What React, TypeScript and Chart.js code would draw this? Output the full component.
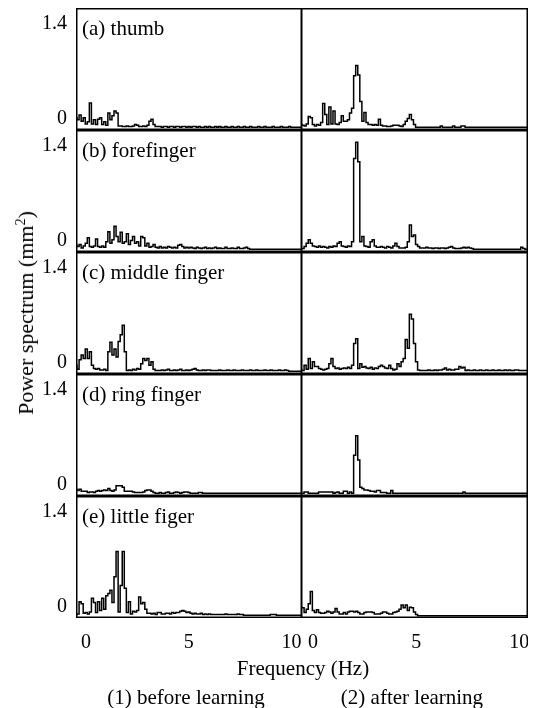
import React, { useEffect, useRef } from "react";
import { Chart, registerables } from "chart.js";

Chart.register(...registerables);

// Frequency grid (Hz)
const FREQ = [
  0, 0.1, 0.2, 0.3, 0.4, 0.5, 0.6, 0.7, 0.8, 0.9,
  1, 1.1, 1.2, 1.3, 1.4, 1.5, 1.6, 1.7, 1.8, 1.9,
  2, 2.1, 2.2, 2.3, 2.4, 2.5, 2.6, 2.7, 2.8, 2.9,
  3, 3.1, 3.2, 3.3, 3.4, 3.5, 3.6, 3.7, 3.8, 3.9,
  4, 4.1, 4.2, 4.3, 4.4, 4.5, 4.6, 4.7, 4.8, 4.9,
  5, 5.1, 5.2, 5.3, 5.4, 5.5, 5.6, 5.7, 5.8, 5.9,
  6, 6.1, 6.2, 6.3, 6.4, 6.5, 6.6, 6.7, 6.8, 6.9,
  7, 7.1, 7.2, 7.3, 7.4, 7.5, 7.6, 7.7, 7.8, 7.9,
  8, 8.1, 8.2, 8.3, 8.4, 8.5, 8.6, 8.7, 8.8, 8.9,
  9, 9.1, 9.2, 9.3, 9.4, 9.5, 9.6, 9.7, 9.8, 9.9,
  10, 10.1, 10.2, 10.3, 10.4, 10.5, 10.6, 10.7, 10.8, 10.9, 11,
];

// (1) before learning
const THUMB_BEFORE = [
  0.15, 0.12, 0.19, 0.10, 0.15, 0.06, 0.09, 0.37, 0.06, 0.12,
  0.05, 0.13, 0.15, 0.05, 0.09, 0.04, 0.22, 0.12, 0.18, 0.25,
  0.22, 0.03, 0.03, 0.02, 0.02, 0.03, 0.02, 0.02, 0.03, 0.05,
  0.04, 0.02, 0.02, 0.03, 0.02, 0.04, 0.10, 0.13, 0.05, 0.02,
  0.02, 0.02, 0.01, 0.02, 0.02, 0.01, 0.02, 0.02, 0.01, 0.02,
  0.02, 0.01, 0.02, 0.02, 0.01, 0.02, 0.01, 0.02, 0.02, 0.01,
  0.02, 0.01, 0.01, 0.02, 0.01, 0.02, 0.01, 0.01, 0.02, 0.01,
  0.02, 0.01, 0.01, 0.02, 0.01, 0.01, 0.02, 0.01, 0.01, 0.02,
  0.01, 0.01, 0.02, 0.01, 0.01, 0.02, 0.01, 0.01, 0.01, 0.02,
  0.01, 0.01, 0.02, 0.01, 0.01, 0.01, 0.02, 0.01, 0.01, 0.01,
  0.02, 0.01, 0.01, 0.01, 0.02, 0.01, 0.01, 0.01, 0.01, 0.01, 0.01,
];
const FORE_BEFORE = [
  0.07, 0.05, 0.08, 0.03, 0.06, 0.10, 0.18, 0.05, 0.04, 0.06,
  0.16, 0.05, 0.04, 0.06, 0.04, 0.12, 0.27, 0.10, 0.15, 0.35,
  0.20, 0.12, 0.26, 0.10, 0.12, 0.24, 0.08, 0.14, 0.20, 0.10,
  0.12, 0.06, 0.20, 0.18, 0.06, 0.10, 0.04, 0.05, 0.08, 0.04,
  0.03, 0.05, 0.03, 0.04, 0.03, 0.05, 0.04, 0.03, 0.04, 0.03,
  0.07, 0.08, 0.05, 0.03, 0.04, 0.03, 0.04, 0.03, 0.02, 0.04,
  0.03, 0.02, 0.03, 0.04, 0.02, 0.03, 0.02, 0.03, 0.04, 0.02,
  0.03, 0.02, 0.02, 0.04, 0.02, 0.02, 0.03, 0.02, 0.02, 0.04,
  0.02, 0.02, 0.03, 0.04, 0.02, 0.01, 0.01, 0.01, 0.01, 0.01,
  0.01, 0.01, 0.01, 0.01, 0.01, 0.01, 0.01, 0.01, 0.01, 0.01,
  0.01, 0.01, 0.01, 0.01, 0.01, 0.01, 0.01, 0.01, 0.01, 0.01, 0.01,
];
const MIDDLE_BEFORE = [
  0.10, 0.04, 0.18, 0.25, 0.20, 0.34, 0.20, 0.30, 0.10, 0.05,
  0.04, 0.05, 0.03, 0.03, 0.04, 0.02, 0.30, 0.44, 0.25, 0.34,
  0.22, 0.45, 0.55, 0.69, 0.30, 0.02, 0.03, 0.02, 0.04, 0.03,
  0.05, 0.04, 0.12, 0.20, 0.17, 0.20, 0.10, 0.15, 0.04, 0.02,
  0.02, 0.02, 0.03, 0.02, 0.03, 0.04, 0.02, 0.02, 0.03, 0.02,
  0.03, 0.04, 0.02, 0.02, 0.03, 0.02, 0.03, 0.04, 0.05, 0.03,
  0.02, 0.02, 0.03, 0.02, 0.03, 0.03, 0.02, 0.02, 0.02, 0.02,
  0.03, 0.02, 0.02, 0.02, 0.03, 0.02, 0.02, 0.03, 0.02, 0.02,
  0.02, 0.03, 0.02, 0.02, 0.02, 0.03, 0.02, 0.02, 0.03, 0.02,
  0.02, 0.02, 0.03, 0.02, 0.02, 0.03, 0.02, 0.02, 0.02, 0.03,
  0.02, 0.02, 0.03, 0.02, 0.01, 0.01, 0.01, 0.01, 0.01, 0.01, 0.01,
];
const RING_BEFORE = [
  0.07, 0.05, 0.07, 0.04, 0.04, 0.04, 0.02, 0.03, 0.03, 0.02,
  0.04, 0.05, 0.04, 0.05, 0.06, 0.05, 0.08, 0.05, 0.04, 0.06,
  0.12, 0.12, 0.12, 0.10, 0.04, 0.04, 0.04, 0.04, 0.03, 0.02,
  0.02, 0.02, 0.02, 0.03, 0.05, 0.06, 0.06, 0.04, 0.02, 0.01,
  0.01, 0.02, 0.01, 0.01, 0.02, 0.03, 0.01, 0.01, 0.02, 0.03,
  0.02, 0.01, 0.02, 0.03, 0.03, 0.02, 0.01, 0.01, 0.01, 0.01,
  0.02, 0.02, 0.01, 0.01, 0.01, 0.01, 0.01, 0.01, 0.01, 0.01,
  0.01, 0.01, 0.01, 0.01, 0.01, 0.01, 0.01, 0.01, 0.01, 0.01,
  0.01, 0.01, 0.01, 0.01, 0.01, 0.01, 0.01, 0.01, 0.01, 0.01,
  0.01, 0.01, 0.01, 0.01, 0.01, 0.01, 0.01, 0.01, 0.01, 0.01,
  0.01, 0.01, 0.01, 0.01, 0.01, 0.01, 0.01, 0.01, 0.01, 0.01, 0.01,
];
const LITTLE_BEFORE = [
  0.02, 0.03, 0.21, 0.18, 0.04, 0.05, 0.03, 0.06, 0.26, 0.20,
  0.05, 0.21, 0.08, 0.26, 0.10, 0.30, 0.33, 0.38, 0.20, 0.58,
  0.95, 0.06, 0.45, 0.95, 0.41, 0.05, 0.21, 0.03, 0.07, 0.06,
  0.08, 0.28, 0.18, 0.20, 0.10, 0.04, 0.04, 0.03, 0.04, 0.02,
  0.05, 0.05, 0.03, 0.03, 0.04, 0.04, 0.03, 0.05, 0.04, 0.05,
  0.05, 0.07, 0.08, 0.07, 0.05, 0.06, 0.04, 0.03, 0.04, 0.03,
  0.03, 0.04, 0.02, 0.03, 0.02, 0.03, 0.02, 0.02, 0.02, 0.02,
  0.02, 0.02, 0.02, 0.03, 0.02, 0.02, 0.02, 0.02, 0.02, 0.03,
  0.02, 0.02, 0.01, 0.01, 0.01, 0.01, 0.01, 0.01, 0.01, 0.01,
  0.01, 0.01, 0.01, 0.01, 0.01, 0.02, 0.02, 0.02, 0.01, 0.01,
  0.01, 0.01, 0.01, 0.01, 0.01, 0.01, 0.01, 0.01, 0.01, 0.01, 0.01,
];

// (2) after learning
const THUMB_AFTER = [
  0.05, 0.04, 0.03, 0.06, 0.17, 0.15, 0.05, 0.03, 0.05, 0.04,
  0.08, 0.36, 0.20, 0.05, 0.31, 0.06, 0.25, 0.06, 0.05, 0.08,
  0.18, 0.10, 0.10, 0.12, 0.22, 0.29, 0.77, 0.92, 0.78, 0.39,
  0.10, 0.23, 0.08, 0.05, 0.05, 0.04, 0.05, 0.04, 0.13, 0.04,
  0.03, 0.03, 0.02, 0.02, 0.03, 0.04, 0.04, 0.04, 0.03, 0.02,
  0.05, 0.10, 0.14, 0.20, 0.12, 0.05, 0.01, 0.01, 0.01, 0.01,
  0.01, 0.01, 0.01, 0.01, 0.01, 0.01, 0.01, 0.01, 0.03, 0.01,
  0.01, 0.01, 0.01, 0.01, 0.03, 0.01, 0.01, 0.01, 0.03, 0.03,
  0.01, 0.01, 0.01, 0.01, 0.01, 0.01, 0.01, 0.01, 0.01, 0.01,
  0.01, 0.01, 0.01, 0.01, 0.01, 0.01, 0.01, 0.01, 0.01, 0.01,
  0.01, 0.01, 0.01, 0.01, 0.01, 0.01, 0.01, 0.01, 0.01, 0.01, 0.01,
];
const FORE_AFTER = [
  0.02, 0.02, 0.05, 0.10, 0.15, 0.10, 0.06, 0.05, 0.04, 0.06,
  0.04, 0.05, 0.04, 0.03, 0.05, 0.04, 0.06, 0.05, 0.10, 0.12,
  0.06, 0.05, 0.04, 0.06, 0.05, 0.12, 1.35, 1.59, 1.30, 0.12,
  0.20, 0.06, 0.05, 0.04, 0.12, 0.15, 0.06, 0.04, 0.04, 0.05,
  0.04, 0.03, 0.05, 0.04, 0.03, 0.06, 0.10, 0.05, 0.03, 0.03,
  0.03, 0.04, 0.12, 0.37, 0.20, 0.22, 0.08, 0.05, 0.03, 0.03,
  0.03, 0.04, 0.03, 0.03, 0.02, 0.03, 0.03, 0.02, 0.03, 0.03,
  0.02, 0.03, 0.04, 0.05, 0.03, 0.02, 0.02, 0.02, 0.03, 0.04,
  0.03, 0.04, 0.03, 0.02, 0.01, 0.01, 0.01, 0.01, 0.01, 0.01,
  0.01, 0.01, 0.01, 0.01, 0.01, 0.01, 0.01, 0.01, 0.01, 0.01,
  0.01, 0.01, 0.01, 0.01, 0.01, 0.01, 0.01, 0.04, 0.02, 0.01, 0.01,
];
const MIDDLE_AFTER = [
  0.03, 0.02, 0.10, 0.04, 0.20, 0.05, 0.15, 0.08, 0.08, 0.05,
  0.04, 0.03, 0.04, 0.05, 0.12, 0.20, 0.08, 0.05, 0.06, 0.04,
  0.05, 0.06, 0.05, 0.07, 0.05, 0.10, 0.42, 0.49, 0.05, 0.12,
  0.07, 0.08, 0.06, 0.05, 0.07, 0.04, 0.06, 0.05, 0.08, 0.10,
  0.08, 0.06, 0.05, 0.10, 0.05, 0.03, 0.04, 0.12, 0.08, 0.15,
  0.20, 0.48, 0.35, 0.85, 0.78, 0.42, 0.15, 0.03, 0.02, 0.02,
  0.02, 0.02, 0.03, 0.02, 0.02, 0.03, 0.02, 0.03, 0.03, 0.04,
  0.06, 0.03, 0.04, 0.03, 0.03, 0.04, 0.04, 0.08, 0.06, 0.07,
  0.02, 0.03, 0.02, 0.02, 0.03, 0.02, 0.02, 0.03, 0.02, 0.02,
  0.03, 0.02, 0.02, 0.03, 0.02, 0.02, 0.03, 0.02, 0.02, 0.03,
  0.02, 0.03, 0.02, 0.02, 0.03, 0.03, 0.02, 0.02, 0.02, 0.02, 0.02,
];
const RING_AFTER = [
  0.01, 0.01, 0.03, 0.03, 0.01, 0.01, 0.01, 0.01, 0.01, 0.03,
  0.03, 0.03, 0.03, 0.03, 0.03, 0.03, 0.01, 0.02, 0.03, 0.01,
  0.01, 0.04, 0.04, 0.01, 0.03, 0.01, 0.57, 0.86, 0.50, 0.10,
  0.08, 0.06, 0.06, 0.05, 0.04, 0.04, 0.03, 0.05, 0.05, 0.02,
  0.02, 0.02, 0.01, 0.01, 0.05, 0.01, 0.01, 0.01, 0.01, 0.01,
  0.01, 0.01, 0.01, 0.01, 0.01, 0.01, 0.01, 0.01, 0.01, 0.01,
  0.01, 0.01, 0.01, 0.01, 0.01, 0.01, 0.01, 0.01, 0.01, 0.01,
  0.01, 0.01, 0.01, 0.01, 0.01, 0.01, 0.01, 0.01, 0.01, 0.03,
  0.01, 0.01, 0.01, 0.01, 0.01, 0.01, 0.01, 0.01, 0.01, 0.01,
  0.01, 0.01, 0.01, 0.01, 0.01, 0.01, 0.01, 0.01, 0.01, 0.01,
  0.01, 0.01, 0.01, 0.01, 0.01, 0.01, 0.01, 0.01, 0.01, 0.01, 0.01,
];
const LITTLE_AFTER = [
  0.13, 0.12, 0.05, 0.10, 0.18, 0.36, 0.08, 0.05, 0.09, 0.05,
  0.04, 0.04, 0.05, 0.07, 0.06, 0.04, 0.06, 0.11, 0.06, 0.03,
  0.03, 0.05, 0.03, 0.06, 0.07, 0.07, 0.06, 0.07, 0.05, 0.03,
  0.03, 0.05, 0.06, 0.06, 0.06, 0.05, 0.03, 0.03, 0.03, 0.04,
  0.06, 0.06, 0.04, 0.03, 0.03, 0.05, 0.06, 0.07, 0.10, 0.16,
  0.12, 0.16, 0.08, 0.13, 0.12, 0.06, 0.02, 0.005, 0.005, 0.005,
  0.005, 0.005, 0.005, 0.005, 0.005, 0.005, 0.005, 0.005, 0.005, 0.005,
  0.005, 0.005, 0.005, 0.005, 0.005, 0.005, 0.005, 0.005, 0.005, 0.005,
  0.005, 0.005, 0.005, 0.005, 0.005, 0.005, 0.005, 0.005, 0.005, 0.005,
  0.005, 0.005, 0.005, 0.005, 0.005, 0.005, 0.005, 0.005, 0.005, 0.005,
  0.005, 0.005, 0.005, 0.005, 0.005, 0.005, 0.005, 0.005, 0.005, 0.005, 0.005,
];

const PANEL_LABELS = [
  "(a) thumb",
  "(b) forefinger",
  "(c) middle finger",
  "(d) ring finger",
  "(e) little figer",
];
const BEFORE_SERIES = [THUMB_BEFORE, FORE_BEFORE, MIDDLE_BEFORE, RING_BEFORE, LITTLE_BEFORE];
const AFTER_SERIES = [THUMB_AFTER, FORE_AFTER, MIDDLE_AFTER, RING_AFTER, LITTLE_AFTER];
const Y_TICKS = [0, 1.4];
const X_TICKS = [0, 5, 10];
const COLUMN_TITLES = ["(1) before learning", "(2) after learning"];
const X_TITLE = "Frequency (Hz)";

const FONT = "'Liberation Serif', 'Times New Roman', Times, serif";
const PANEL_TOPS = [8, 130, 252, 374, 496];
const PLOT_H = 122;
const X_AXIS_H = 40;

const framePlugin = {
  id: "frame",
  afterDraw(chart: any) {
    const { ctx, chartArea } = chart;
    const { left, top, right, bottom } = chartArea;
    ctx.save();
    ctx.strokeStyle = "#000";
    ctx.lineWidth = 1.5;
    ctx.strokeRect(left + 0.75, top + 0.75, right - left - 1.5, bottom - top - 1.5);
    ctx.restore();
  },
};

type PanelProps = {
  values: number[];
  showY: boolean;
  showX: boolean;
  left: number;
  top: number;
  width: number;
  xLabelOffset: number;
};

function Panel({ values, showY, showX, left, top, width, xLabelOffset }: PanelProps) {
  const ref = useRef<HTMLCanvasElement>(null);
  const height = PLOT_H + (showX ? X_AXIS_H : 0);
  useEffect(() => {
    if (!ref.current) return;
    const chart = new Chart(ref.current, {
      type: "line",
      data: {
        labels: FREQ,
        datasets: [
          {
            data: values,
            borderColor: "#000",
            borderWidth: 1.5,
            pointRadius: 0,
            stepped: "middle",
            fill: false,
          } as any,
        ],
      },
      options: {
        animation: false,
        responsive: false,
        maintainAspectRatio: false,
        devicePixelRatio: 1,
        events: [],
        layout: { padding: 0 },
        plugins: {
          legend: { display: false },
          tooltip: { enabled: false },
          title: { display: false },
        },
        scales: {
          x: {
            type: "linear",
            min: 0,
            max: 11,
            display: showX,
            grid: { display: false, drawTicks: false },
            border: { display: false },
            afterBuildTicks: (s: any) => {
              s.ticks = X_TICKS.map((v) => ({ value: v }));
            },
            afterFit: (s: any) => {
              s.height = showX ? X_AXIS_H : 0;
              s.paddingLeft = 0;
              s.paddingRight = 0;
              s.paddingTop = 0;
              s.paddingBottom = 0;
            },
            ticks: {
              autoSkip: false,
              maxRotation: 0,
              minRotation: 0,
              labelOffset: xLabelOffset,
              padding: 13,
              color: "#000",
              font: { family: FONT, size: 20 },
              callback: (v: any) => String(v),
            },
          },
          y: {
            type: "linear",
            min: -0.03,
            max: 1.77,
            display: showY,
            grid: { display: false, drawTicks: false },
            border: { display: false },
            afterBuildTicks: (s: any) => {
              s.ticks = Y_TICKS.map((v) => ({ value: v }));
            },
            afterFit: (s: any) => {
              s.width = showY ? 76 : 0;
              s.paddingLeft = 0;
              s.paddingRight = 0;
              s.paddingTop = 0;
              s.paddingBottom = 0;
            },
            ticks: {
              autoSkip: false,
              labelOffset: -9,
              padding: 9,
              color: "#000",
              font: { family: FONT, size: 20 },
              callback: (v: any) => String(v),
            },
          },
        },
      },
      plugins: [framePlugin],
    });
    return () => chart.destroy();
  }, []);
  return (
    <canvas
      ref={ref}
      width={width}
      height={height}
      style={{ position: "absolute", left, top, width, height, display: "block" }}
    />
  );
}

const textBase: React.CSSProperties = {
  position: "absolute",
  fontFamily: FONT,
  color: "#000",
  whiteSpace: "nowrap",
};

export default function App() {
  return (
    <div
      style={{
        position: "absolute",
        left: 0,
        top: 0,
        width: 536,
        height: 708,
        background: "#fff",
        overflow: "hidden",
      }}
    >
      {PANEL_TOPS.map((t, i) => (
        <React.Fragment key={i}>
          <Panel
            values={BEFORE_SERIES[i]}
            showY={true}
            showX={i === PANEL_TOPS.length - 1}
            left={0}
            top={t}
            width={302}
            xLabelOffset={10}
          />
          <Panel
            values={AFTER_SERIES[i]}
            showY={false}
            showX={i === PANEL_TOPS.length - 1}
            left={301}
            top={t}
            width={227}
            xLabelOffset={12}
          />
          <div style={{ ...textBase, left: 82, top: t + 8, fontSize: 21, lineHeight: "24px" }}>
            {PANEL_LABELS[i]}
          </div>
        </React.Fragment>
      ))}
      <div
        style={{
          ...textBase,
          left: 26,
          top: 313,
          fontSize: 22,
          lineHeight: "26px",
          transform: "translate(-50%, -50%) rotate(-90deg)",
        }}
      >
        Power spectrum (mm<sup style={{ fontSize: 14, lineHeight: 0 }}>2</sup>)
      </div>
      <div
        style={{ ...textBase, left: 103, width: 400, top: 656, textAlign: "center", fontSize: 21, lineHeight: "24px" }}
      >
        {X_TITLE}
      </div>
      <div
        style={{ ...textBase, left: -14, width: 400, top: 685, textAlign: "center", fontSize: 21, lineHeight: "24px" }}
      >
        {COLUMN_TITLES[0]}
      </div>
      <div
        style={{ ...textBase, left: 212, width: 400, top: 685, textAlign: "center", fontSize: 21, lineHeight: "24px" }}
      >
        {COLUMN_TITLES[1]}
      </div>
    </div>
  );
}
